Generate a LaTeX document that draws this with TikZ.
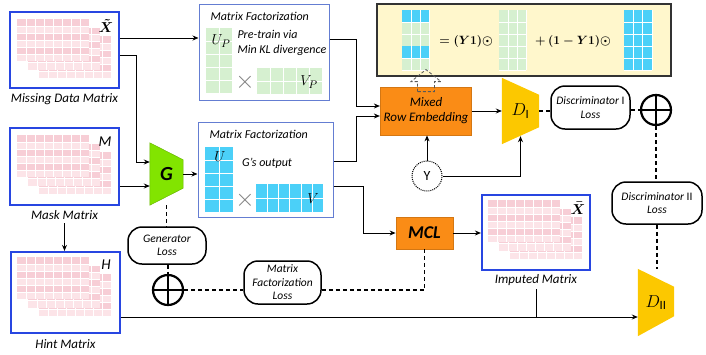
\documentclass[tikz,border=0pt]{standalone}
\usepackage{fontspec}
\setmainfont{Carlito}
\usetikzlibrary{arrows.meta}

\definecolor{matblue}{RGB}{40,70,225}
\definecolor{mfblue}{RGB}{100,125,210}
\definecolor{cellpink}{RGB}{252,228,232}
\definecolor{cellrose}{RGB}{247,206,214}
\definecolor{factgreen}{RGB}{214,240,208}
\definecolor{factcyan}{RGB}{75,208,248}
\definecolor{boxorange}{RGB}{250,140,22}
\definecolor{formyellow}{RGB}{255,247,204}
\definecolor{discgold}{RGB}{252,200,0}
\definecolor{genlime}{RGB}{130,228,0}

% one pink sheet of a data matrix, top left corner at (#1,#2)
\newcommand{\pinksheet}[2]{%
  \begin{scope}[shift={(#1,#2)}]
    \fill[cellpink] (0,0) rectangle (72,42);
    \fill[cellrose] (0,0) rectangle (72,7);
    \fill[cellrose] (0,14) rectangle (72,21);
    \fill[cellrose] (0,28) rectangle (72,35);
    \foreach \c in {9,18,...,63} \draw[white,line width=0.4pt] (\c,0) -- (\c,42);
    \foreach \r in {7,14,...,35} \draw[white,line width=0.4pt] (0,\r) -- (72,\r);
  \end{scope}}

% block of coloured cells: colour, x, y, columns, rows, cell width, cell height
\newcommand{\cellblock}[7]{%
  \begin{scope}[shift={(#2,#3)}]
    \fill[#1] (0,0) rectangle (#4*#6,#5*#7);
    \foreach \c in {1,...,#4} \draw[white,line width=0.6pt] (\c*#6,0) -- (\c*#6,#5*#7);
    \foreach \r in {1,...,#5} \draw[white,line width=0.6pt] (0,\r*#7) -- (#4*#6,\r*#7);
  \end{scope}}

\begin{document}
\begin{tikzpicture}[x=1pt,y=-1pt,
    arr/.style={-{Stealth[length=6pt,width=5pt]},line width=0.9pt},
    lossline/.style={line width=1.2pt,dash pattern=on 4pt off 3pt},
    matbox/.style={draw=matblue,line width=2.2pt},
    mfbox/.style={draw=mfblue,line width=1pt},
    lbl/.style={font=\fontsize{13}{15}\selectfont\itshape},
    mftitle/.style={anchor=west,font=\fontsize{12}{14}\selectfont\itshape},
    tag/.style={font=\fontsize{15}{17}\selectfont\itshape},
    crossmark/.style={text=gray,font=\fontsize{34}{36}\selectfont},
    orangebox/.style={fill=boxorange,draw=boxorange!85!black,line width=0.8pt,align=center},
    lossbox/.style={draw,line width=1.5pt,rounded corners=14pt,align=center,inner sep=2pt,
                    font=\fontsize{11.5}{13.5}\selectfont\itshape},
    oplusnode/.style={draw,circle,line width=2.2pt,minimum size=30pt,inner sep=0pt}
  ]
  \useasboundingbox (0,0) rectangle (706,354);

  % data matrices on the left
  \node[matbox,minimum width=109pt,minimum height=76pt] (missbox) at (64.5,50) {};
  \pinksheet{39}{36}
  \pinksheet{28}{27.5}
  \pinksheet{17}{19}
  \node[font=\fontsize{15}{17}\selectfont\boldmath] (misstag) at (106,26) {$\tilde{X}$};
  \node[lbl] (misslbl) at (64.5,99) {Missing Data Matrix};

  \node[matbox,minimum width=109pt,minimum height=77pt] (maskbox) at (64.5,166.5) {};
  \pinksheet{39}{152}
  \pinksheet{28}{143.5}
  \pinksheet{17}{135}
  \node[tag] (masktag) at (105,142) {M};
  \node[lbl] (masklbl) at (64.5,215) {Mask Matrix};

  \node[matbox,minimum width=109pt,minimum height=81pt] (hintbox) at (65.5,292.5) {};
  \pinksheet{39}{274}
  \pinksheet{28}{265.5}
  \pinksheet{17}{257}
  \node[tag] (hinttag) at (106,265) {H};
  \node[lbl] (hintlbl) at (65.5,344) {Hint Matrix};

  % generator
  \node[minimum width=33pt,minimum height=62pt] (gen) at (166.5,174) {};
  \filldraw[fill=genlime,draw=genlime!80!black,line width=0.5pt]
    (gen.north west) -- ([yshift=-17pt]gen.north east) -- ([yshift=17pt]gen.south east) -- (gen.south west) -- cycle;
  \node[font=\fontsize{20}{22}\selectfont\bfseries\itshape] (genlbl) at (gen) {G};

  % matrix factorization boxes
  \node[mfbox,minimum width=130pt,minimum height=96pt] (mf1) at (264,52) {};
  \node[mftitle] (mf1title) at (207,16) {Matrix Factorization};
  \cellblock{factgreen}{206}{28}{2}{5}{13}{13}
  \cellblock{factgreen}{257}{68}{5}{2}{13}{13}
  \node[font=\fontsize{15}{17}\selectfont] (uptag) at (221,41) {$U_P$};
  \node[font=\fontsize{15}{17}\selectfont] (vptag) at (309,82) {$V_P$};
  \node[crossmark] (cross1) at (245,82) {$\times$};
  \node[anchor=west,align=left,font=\fontsize{12}{15}\selectfont\itshape] (pretrain) at (234,42.5) {Pre-train via\\Min KL divergence};

  \node[mfbox,minimum width=135pt,minimum height=95pt] (mf2) at (265.5,169.5) {};
  \node[mftitle] (mf2title) at (206,134) {Matrix Factorization};
  \cellblock{factcyan}{205}{147}{2}{5}{14}{13}
  \cellblock{factcyan}{256}{184}{6}{2}{11.2}{14}
  \node[font=\fontsize{15}{17}\selectfont] (utag) at (220,157) {$U$};
  \node[font=\fontsize{15}{17}\selectfont] (vtag) at (313,199) {$V$};
  \node[crossmark] (cross2) at (245,200) {$\times$};
  \node[font=\fontsize{12}{14}\selectfont\itshape] (gout) at (267,163) {G’s output};

  % formula box
  \node[draw=black!80,fill=formyellow,line width=1.2pt,minimum width=294pt,minimum height=72pt] (formula) at (524,40) {};
  \cellblock{factgreen}{402}{10}{3}{5}{9}{12}
  \cellblock{factcyan}{402}{10}{3}{1}{9}{12}
  \cellblock{factcyan}{402}{46}{3}{1}{9}{12}
  \node[font=\fontsize{12}{14}\selectfont\boldmath] (eqone) at (466,41) {$=(Y1)\odot$};
  \cellblock{factgreen}{499}{10}{3}{5}{9}{12}
  \node[font=\fontsize{12}{14}\selectfont\boldmath] (eqtwo) at (573,41) {$+\,(1-Y1)\odot$};
  \cellblock{factcyan}{624}{10}{3}{5}{9.33}{12}

  % mixing, MCL and discriminators
  \node[orangebox,minimum width=90pt,minimum height=48pt,font=\fontsize{13}{15}\selectfont\itshape] (mixed) at (426,111) {Mixed\\Row Embedding};
  \draw[densely dashed,black!65,line width=0.8pt]
    ([xshift=-8.5pt,yshift=-5pt]mixed.north) -- ++(0,-10) -- ++(-6.5,0) -- ([yshift=17pt]mixed.north)
    -- ++(15,12) -- ++(-6.5,0) -- ++(0,10) -- cycle;
  \node[orangebox,minimum width=57pt,minimum height=32pt,font=\fontsize{18}{20}\selectfont\bfseries\itshape] (mcl) at (424.5,233) {MCL};
  \node[draw,circle,densely dotted,line width=1pt,minimum size=30pt,inner sep=0pt,font=\fontsize{14}{16}\selectfont] (ysel) at (427,176) {Y};

  \node[minimum width=37pt,minimum height=66pt] (dI) at (520.5,111) {};
  \fill[discgold] (dI.north west) -- ([yshift=-17pt]dI.north east) -- ([yshift=17pt]dI.south east) -- (dI.south west) -- cycle;
  \node[font=\fontsize{18}{20}\selectfont] (dIlbl) at (dI) {$D_{\mathrm{I}}$};

  \node[minimum width=36pt,minimum height=67pt] (dII) at (656,302.5) {};
  \fill[discgold] (dII.north west) -- ([yshift=-18pt]dII.north east) -- ([yshift=20pt]dII.south east) -- (dII.south west) -- cycle;
  \node[font=\fontsize{18}{20}\selectfont] (dIIlbl) at (dII) {$D_{\mathrm{II}}$};

  % imputed matrix
  \node[matbox,minimum width=108pt,minimum height=75pt] (impbox) at (536,232.5) {};
  \pinksheet{510}{217}
  \pinksheet{499}{208.5}
  \pinksheet{488}{200}
  \node[font=\fontsize{15}{17}\selectfont\boldmath] (imptag) at (578,208) {$\bar{X}$};
  \node[lbl] (implbl) at (536,280) {Imputed Matrix};

  % losses
  \node[lossbox,minimum width=78pt,minimum height=37pt] (gloss) at (167,245.5) {Generator\\Loss};
  \node[lossbox,minimum width=77pt,minimum height=43pt] (mfloss) at (282.5,282.5) {Matrix\\Factorization\\Loss};
  \node[lossbox,minimum width=79pt,minimum height=43pt] (dloss1) at (590.5,107.5) {Discriminator $\mathrm{I}$\\Loss};
  \node[lossbox,minimum width=90pt,minimum height=42pt] (dloss2) at (657,203) {Discriminator $\mathrm{II}$\\Loss};
  \node[oplusnode] (op1) at (656,110) {};
  \draw[line width=2.2pt] (op1.north) -- (op1.south) (op1.west) -- (op1.east);
  \node[oplusnode] (op2) at (168,290) {};
  \draw[line width=2.2pt] (op2.north) -- (op2.south) (op2.west) -- (op2.east);

  % data flow
  \draw[arr] (masklbl.south) -- (masklbl.south |- hintbox.north);
  \draw[arr] ([yshift=12pt]missbox.east) -- ([yshift=12pt]missbox.east -| mf1.west);
  \draw[arr] ([yshift=-5pt]missbox.east) -- ++(16,0) |- ([yshift=12pt]gen.west);
  \draw[arr] ([yshift=-19.5pt]maskbox.east) -- ([yshift=-19.5pt]maskbox.east -| gen.west);
  \draw[arr] (gen.east) -- (gen.east -| mf2.west);
  \draw[arr] ([yshift=13pt]mf1.east) -- ++(27,0) |- ([yshift=5pt]mixed.west);
  \draw[arr] ([yshift=8.5pt]mf2.east) -- ++(23,0) |- ([yshift=-5pt]mixed.west);
  \draw[arr] ([yshift=-16.5pt]mf2.east) -- ++(30,0) |- (mcl.west);
  \draw[arr] (mixed.east) -- (mixed.east -| dI.west);
  \draw[arr] (mcl.east) -- (mcl.east -| impbox.west);
  \draw[arr] (ysel.north) -- (ysel.north |- mixed.south);
  \draw[arr] (ysel.east) -| ([yshift=8pt]dI.south);
  \coordinate (hintout) at ([yshift=-24.5pt]hintbox.east);
  \draw[arr] (hintout) -- (hintout -| dII.west);
  \draw[line width=0.9pt] (implbl.south) -- (implbl.south |- hintout);

  % loss lines
  \draw[lossline] (dI.east) -- (dI.east -| dloss1.west);
  \draw[lossline] (dloss1.east |- op1) -- (op1.west);
  \draw[lossline] (op1.south) -- (op1.south |- dloss2.north);
  \draw[lossline] (dloss2.south) -- (dloss2.south |- dII.north);
  \draw[lossline] (gen.south) -- (gen.south |- gloss.north);
  \draw[lossline] (gloss.south -| op2) -- (op2.north);
  \draw[lossline] (op2.east) -- (op2.east -| mfloss.west);
  \draw[lossline] (op2 -| mfloss.east) -| (mcl.south);
\end{tikzpicture}
\end{document}
